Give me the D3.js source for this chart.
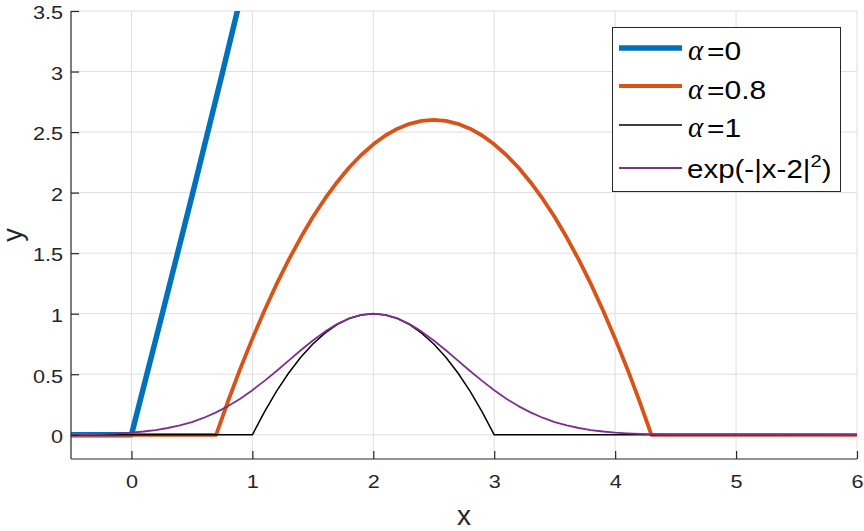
<!DOCTYPE html>
<html><head><meta charset="utf-8">
<script src="https://cdn.jsdelivr.net/npm/d3@7"></script>
<style>body{margin:0;background:#fff;} svg{display:block;font-family:"Liberation Sans",Arial,sans-serif;}</style>
</head><body>
<svg id="chart" width="864" height="531"></svg>
<script>
const xTicks = [0, 1, 2, 3, 4, 5, 6];
const yTicks = [0, 0.5, 1, 1.5, 2, 2.5, 3, 3.5];

const blueX = [-0.5, 0, 0.25, 0.5, 0.75, 0.9];
const blueY = [0, 0, 0.98, 1.97, 2.98, 3.6];

const orangeX = [-0.5, 0.7, 0.8, 0.9, 1.0, 1.1, 1.2, 1.3, 1.4, 1.5, 1.6, 1.7, 1.8, 1.9, 2.0, 2.1, 2.2, 2.3, 2.4, 2.5,
  2.6, 2.7, 2.8, 2.9, 3.0, 3.1, 3.2, 3.3, 3.4, 3.5, 3.6, 3.7, 3.8, 3.9, 4.0, 4.1, 4.2, 4.3, 6];
const orangeY = [0, 0, 0.281, 0.546, 0.794, 1.027, 1.244, 1.444, 1.629, 1.798, 1.950, 2.086, 2.207, 2.311, 2.399, 2.472, 2.528, 2.568, 2.592, 2.6,
  2.592, 2.568, 2.528, 2.472, 2.399, 2.311, 2.207, 2.086, 1.950, 1.798, 1.629, 1.444, 1.244, 1.027, 0.794, 0.546, 0.281, 0, 0];

const blackX = [-0.5, 1.0, 1.1, 1.2, 1.3, 1.4, 1.5, 1.6, 1.7, 1.8, 1.9, 2.0, 2.1, 2.2, 2.3, 2.4, 2.5, 2.6, 2.7, 2.8, 2.9, 3.0, 6];
const blackY = [0, 0, 0.19, 0.36, 0.51, 0.64, 0.75, 0.84, 0.91, 0.96, 0.99, 1, 0.99, 0.96, 0.91, 0.84, 0.75, 0.64, 0.51, 0.36, 0.19, 0, 0];

const purpleX = [-0.5, -0.4, -0.3, -0.2, -0.1, 0.0, 0.1, 0.2, 0.3, 0.4, 0.5, 0.6, 0.7, 0.8, 0.9, 1.0, 1.1, 1.2, 1.3, 1.4, 1.5, 1.6, 1.7, 1.8, 1.9, 2.0,
  2.1, 2.2, 2.3, 2.4, 2.5, 2.6, 2.7, 2.8, 2.9, 3.0, 3.1, 3.2, 3.3, 3.4, 3.5, 3.6, 3.7, 3.8, 3.9, 4.0, 4.1, 4.2, 4.3, 4.4, 4.5, 6];
const purpleY = [0.002, 0.003, 0.005, 0.008, 0.012, 0.018, 0.027, 0.039, 0.056, 0.077, 0.105, 0.141, 0.185, 0.237, 0.298, 0.368, 0.445, 0.527, 0.613, 0.698, 0.779, 0.852, 0.914, 0.961, 0.990, 1.000,
  0.990, 0.961, 0.914, 0.852, 0.779, 0.698, 0.613, 0.527, 0.445, 0.368, 0.298, 0.237, 0.185, 0.141, 0.105, 0.077, 0.056, 0.039, 0.027, 0.018, 0.012, 0.008, 0.005, 0.003, 0.002, 0.000];

const seriesNames = ["=0", "=0.8", "=1", "exp"];
const seriesColors = ["#0072BD", "#D95319", "#000000", "#7E2F8E"];
const seriesWidths = [5.5, 3.8, 1.5, 1.8];

const svg = d3.select("#chart");
const L = 71, R = 857, T = 11, B = 459;
const x = d3.scaleLinear().domain([-0.5, 6]).range([L, R]);
const y = d3.scaleLinear().domain([-0.2, 3.5]).range([B, T]);
const axisColor = "#262626";
const SX = 1.17;

// grid
const grid = svg.append("g");
grid.selectAll("line.vx").data(xTicks).enter().append("line")
  .attr("x1", d => x(d)).attr("x2", d => x(d)).attr("y1", T).attr("y2", B)
  .attr("stroke", "#dfdfdf").attr("stroke-width", 1);
grid.selectAll("line.hy").data(yTicks).enter().append("line")
  .attr("x1", L).attr("x2", R).attr("y1", d => y(d)).attr("y2", d => y(d))
  .attr("stroke", "#dfdfdf").attr("stroke-width", 1);

// clip
svg.append("clipPath").attr("id", "clip").append("rect")
  .attr("x", L).attr("y", T).attr("width", R - L).attr("height", B - T);

const lineGen = d3.line().x(d => x(d[0])).y(d => y(d[1]));
const series = [
  d3.zip(blueX, blueY),
  d3.zip(orangeX, orangeY),
  d3.zip(blackX, blackY),
  d3.zip(purpleX, purpleY)
];
const plot = svg.append("g").attr("clip-path", "url(#clip)");
series.forEach((s, i) => {
  plot.append("path").datum(s).attr("d", lineGen)
    .attr("fill", "none").attr("stroke", seriesColors[i])
    .attr("stroke-width", seriesWidths[i]).attr("stroke-linejoin", "round");
});

// axes
const xAxis = d3.axisBottom(x).tickValues(xTicks).tickSize(-8).tickFormat(d3.format("d"));
const gx = svg.append("g").attr("transform", `translate(0,${B})`).call(xAxis);
const yAxis = d3.axisLeft(y).tickValues(yTicks).tickSize(-8).tickFormat(d => String(d));
const gy = svg.append("g").attr("transform", `translate(${L},0)`).call(yAxis);
[gx, gy].forEach(g => {
  g.select(".domain").attr("stroke", axisColor).attr("stroke-width", 1.2);
  g.selectAll(".tick line").attr("stroke", axisColor).attr("stroke-width", 1.2);
  g.selectAll(".tick text").attr("fill", axisColor).attr("font-size", 18.5)
    .attr("font-family", "'Liberation Sans',Arial,sans-serif");
});
gx.selectAll(".tick text").attr("x", 0).attr("y", 0).attr("dy", 0)
  .attr("transform", `translate(0,29) scale(${SX},1)`);
gy.selectAll(".tick text").attr("x", 0).attr("dy", "0.42em")
  .attr("transform", `translate(-8,0) scale(${SX},1)`);
gx.select(".domain").attr("d", `M${L},0H${R}`);
gy.select(".domain").attr("d", `M0,${B}V${T}`);

// axis labels
svg.append("text").attr("x", (L + R) / 2).attr("y", 525).attr("text-anchor", "middle")
  .attr("font-size", 28).attr("fill", axisColor).text("x");
svg.append("text").attr("transform", `translate(22,${(T + B) / 2}) rotate(-90)`).attr("text-anchor", "middle")
  .attr("font-size", 27).attr("fill", axisColor).text("y");

// legend
const leg = svg.append("g");
leg.append("rect").attr("x", 612.5).attr("y", 27.5).attr("width", 228).attr("height", 164)
  .attr("fill", "#fff").attr("stroke", "#262626").attr("stroke-width", 1);
const baselines = [60, 98.5, 137, 178];
const lineYs = [48, 86, 125, 168];
seriesNames.forEach((name, i) => {
  const by = baselines[i];
  leg.append("line").attr("x1", 619).attr("x2", 682).attr("y1", lineYs[i]).attr("y2", lineYs[i])
    .attr("stroke", seriesColors[i]).attr("stroke-width", seriesWidths[i]);
  if (name === "exp") {
    const t = leg.append("text").attr("x", 0).attr("y", 0).attr("font-size", 25).attr("fill", "#000")
      .attr("transform", `translate(687,${by}) scale(1.18,1)`);
    t.append("tspan").text("exp(-|x-2|");
    t.append("tspan").attr("font-size", 17).attr("dy", -11).text("2");
    t.append("tspan").attr("dy", 11).text(")");
  } else {
    leg.append("text").attr("x", 688).attr("y", by)
      .attr("font-family", "'Liberation Serif','DejaVu Serif',serif").attr("font-style", "italic")
      .attr("font-size", 29).attr("fill", "#000").text("α");
    leg.append("text").attr("x", 0).attr("y", 0).attr("font-size", 25).attr("fill", "#000")
      .attr("transform", `translate(707,${by}) scale(1.2,1)`).text(name);
  }
});
</script>
</body></html>
